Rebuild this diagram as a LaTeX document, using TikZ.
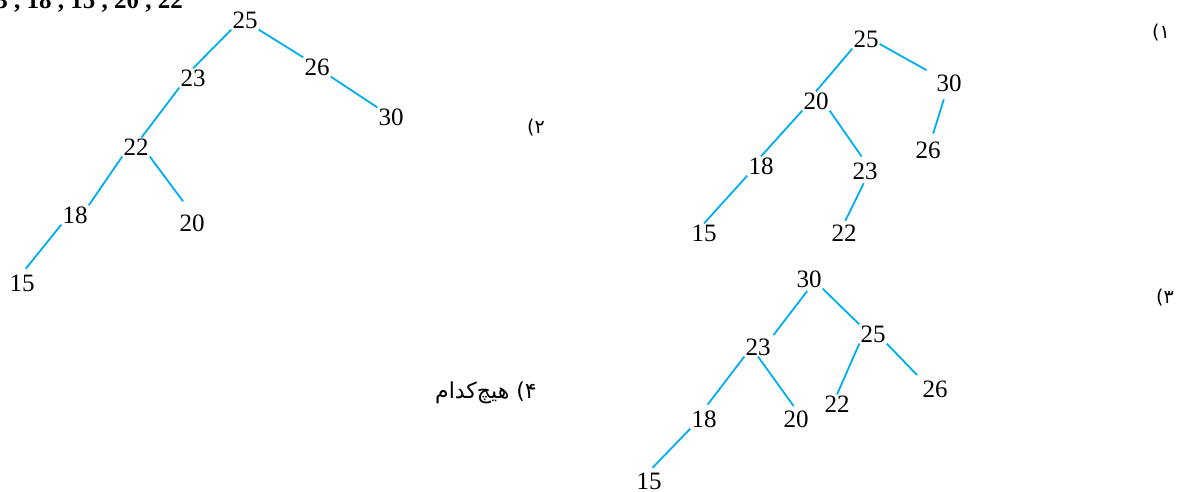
\documentclass[tikz,border=0pt]{standalone}
\usepackage{fontspec}
\setmainfont{Liberation Serif}
\newfontfamily\fa[Script=Arabic]{DejaVu Sans}
\TeXXeTstate=1
\definecolor{edgec}{RGB}{0,174,239}
\begin{document}
\begin{tikzpicture}[x=1pt,y=-1pt,
  num/.style={font=\fontsize{25}{25}\selectfont, inner sep=1pt},
  edge/.style={draw=edgec, line width=1.8pt},
  lab/.style={font=\fontsize{19}{19}\selectfont\fa, inner sep=0pt}]
\useasboundingbox (0,0) rectangle (1182,491);
% cropped heading
\node[anchor=base east, inner sep=0pt, font=\fontsize{25}{25}\selectfont\bfseries] (head) at (183,8) {3 , 18 , 15 , 20 , 22};
% left tree
\node[num] (L25) at (245,20) {25};
\node[num] (L26) at (317,67) {26};
\node[num] (L30) at (391,117) {30};
\node[num] (L23) at (193,78) {23};
\node[num] (L22) at (136,147) {22};
\node[num] (L18) at (75,215) {18};
\node[num] (L20) at (192,223) {20};
\node[num] (L15) at (22,283) {15};
\draw[edge] (L25.south west) -- (L23.north);
\draw[edge] (L25.south east) -- (L26.north west);
\draw[edge] (L26.south east) -- (L30.north west);
\draw[edge] (L23.south west) -- (L22.60);
\draw[edge] (L22.south west) -- (L18.north east);
\draw[edge, shorten >=15pt] (L22.south east) -- (L20.north);
\draw[edge, shorten >=6pt] (L18.south west) -- (L15.north);
% tree 1
\node[num] (A25) at (866,39) {25};
\node[num] (A30) at (949,83) {30};
\node[num] (A20) at (816,101) {20};
\node[num] (A26) at (928,150) {26};
\node[num] (A18) at (761,166) {18};
\node[num] (A23) at (865,171) {23};
\node[num] (A15) at (704,233) {15};
\node[num] (A22) at (844,233) {22};
\draw[edge] (A25.south west) -- (A20.north);
\draw[edge, shorten >=10pt] (A25.-20) -- (A30.150);
\draw[edge, shorten <=7pt, shorten >=7pt] (A30) -- (A26);
\draw[edge] (A20.south west) -- (A18.north);
\draw[edge, shorten >=6pt] (A20.south east) -- (A23.north);
\draw[edge] (A18.south west) -- (A15.north);
\draw[edge, shorten <=3pt, shorten >=3pt] (A23.south) -- (A22.north);
% tree 3
\node[num] (B30) at (809,279) {30};
\node[num] (B25) at (873,334) {25};
\node[num] (B23) at (758,347) {23};
\node[num] (B26) at (935,389) {26};
\node[num] (B22) at (837,404) {22};
\node[num] (B18) at (704,419) {18};
\node[num] (B20) at (796,419) {20};
\node[num] (B15) at (649,481) {15};
\draw[edge, shorten <=3pt, shorten >=3pt] (B30.south) -- (B23.north east);
\draw[edge] (B30.south east) -- (B25.north west);
\draw[edge, shorten >=6pt] (B23.south west) -- (B18.north);
\draw[edge, shorten >=4pt] (B23.south) -- (B20.north);
\draw[edge] (B25.south west) -- (B22.north);
\draw[edge, shorten >=6pt] (B25.south east) -- (B26.north west);
\draw[edge, shorten >=5pt] (B18.south west) -- (B15.north);
% option labels
\node[lab] (P1) at (1161,33) {۱)};
\node[lab] (P2) at (536,128) {۲)};
\node[lab] (P3) at (1165,298) {۳)};
\node[lab, font=\fontsize{22}{22}\selectfont\fa] (P4) at (486,393) {\beginR ۴) هیچ‌کدام\endR};
\end{tikzpicture}
\end{document}
